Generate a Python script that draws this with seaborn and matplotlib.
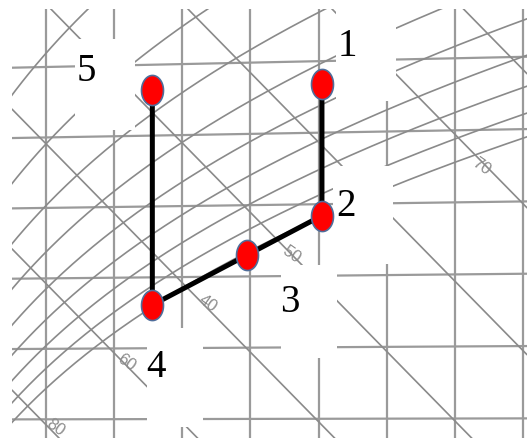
import numpy as np
import pandas as pd
import matplotlib
matplotlib.use('Agg')
import matplotlib.pyplot as plt
import seaborn as sns
from matplotlib.path import Path
from matplotlib.patches import Rectangle

sns.set_theme(style="white")

# --- chart data (Mollier-type h-x diagram) ---
x_grid = [3, 4, 5, 6, 7, 8, 9, 10]              # humidity ratio lines, g/kg
t_grid = [-5, 0, 5, 10, 15, 20]                 # isotherms, degC
rh_levels = [0.1, 0.2, 0.3, 0.4, 0.5, 0.6, 0.7, 0.8, 0.9, 1.0]
enth_y0 = [38.0, 28.6, 18.3, 8.5, -1.3, -11.1, -21.0]   # where each enthalpy line crosses x = 6.2
enth_slope = -4.87
pressure = 103500.0

state_names = ['1', '2', '3', '4', '5']
state_x = [7.05, 7.05, 5.95, 4.56, 4.56]        # g/kg
state_t = [18.4, 9.2, 6.5, 3.05, 18.2]          # degC

enth_names = ['70', '50', '40', '60', '80']


def chart_y(x, t):
    # isotherms tilt slightly upward to the right
    x = np.asarray(x, dtype=float)
    t = np.asarray(t, dtype=float)
    return t + (0.0278 + 0.0037 * t) * (x - 6.2)


W, H = 527, 439
fig = plt.figure(figsize=(W / 100, H / 100), dpi=100)
ax = fig.add_axes([12 / W, 0, 1 - 12 / W, 1 - 10 / H])
ax.set_xlim(2.5, 10.06)
ax.set_ylim(-6.34, 23.74)
ax.axis('off')

grid_col = '#9a9a9a'
line_col = '#8a8a8a'

for xv in x_grid:
    ax.axvline(xv, color=grid_col, lw=1.6, zorder=1)

xs = np.array([2.5, 10.06])
for tv in t_grid:
    ax.plot(xs, chart_y(xs, tv), color=grid_col, lw=1.6, zorder=1)

for y0 in enth_y0:
    ax.plot(xs, y0 + enth_slope * (xs - 6.2), color=line_col, lw=1.2, zorder=1)

# relative humidity curves
T = np.arange(-12, 40.01, 0.2)
frames = []
for phi in rh_levels:
    ps = 610.78 * np.exp(17.27 * T / (T + 237.3))
    xh = 622 * phi * ps / (pressure - phi * ps)
    frames.append(pd.DataFrame({'x': xh, 'Y': chart_y(xh, T), 'phi': phi}))
rh_df = pd.concat(frames)
sns.lineplot(data=rh_df, x='x', y='Y', units='phi', estimator=None, sort=False,
             color=line_col, lw=1.2, legend=False, ax=ax, zorder=1)

# white label boxes (pixel coords, origin top-left)
boxes = [(75, 40, 135, 131), (336, 0, 396, 102), (333, 167, 393, 265),
         (281, 266, 337, 359), (147, 329, 203, 428)]
for x0, y0, x1, y1 in boxes:
    ax.add_patch(Rectangle((x0 / W, 1 - y1 / H), (x1 - x0) / W, (y1 - y0) / H,
                           transform=fig.transFigure, facecolor='white',
                           edgecolor='none', zorder=2))

# enthalpy labels
enth_pos = [(481, 167), (292, 255), (208, 304), (126, 363), (55, 428)]
for name, (px, py) in zip(enth_names, enth_pos):
    fig.text(px / W, 1 - py / H, name, ha='center', va='center', rotation=-35,
             fontsize=12, color='#8c8c8c', family='Liberation Sans', zorder=3)

# process path and state points
state_y = chart_y(state_x, state_t)
sns.lineplot(x=state_x, y=state_y, sort=False, estimator=None, color='black',
             lw=3.6, ax=ax, zorder=4)

theta = np.linspace(0, 2 * np.pi, 60)
ellipse = Path(np.column_stack([0.73 * np.cos(theta), np.sin(theta)]), closed=True)
sns.scatterplot(x=state_x, y=state_y, marker=ellipse, s=470, color='#ff0000',
                edgecolor='#4f6d9a', linewidth=1.2, ax=ax, zorder=5)

label_off = [(25, 38), (24, 10), (43, -46), (4, -62), (-66, 20)]
for name, xv, yv, off in zip(state_names, state_x, state_y, label_off):
    ax.annotate(name, (xv, yv), xytext=off, textcoords='offset pixels',
                ha='center', va='center', fontsize=28, color='black',
                family='Liberation Serif', zorder=6, annotation_clip=False)

fig.savefig('out.png', dpi=100)
